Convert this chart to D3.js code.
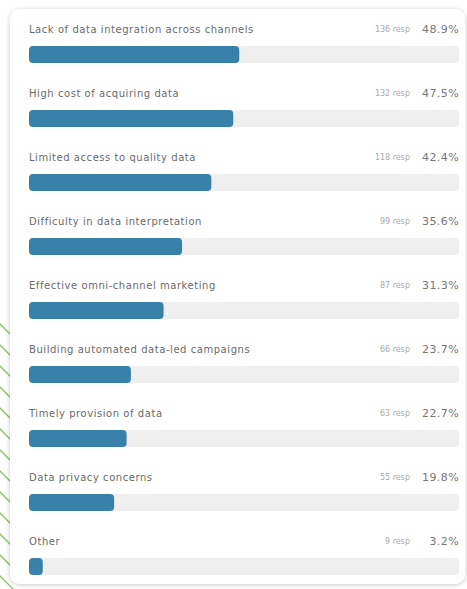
<!DOCTYPE html>
<html>
<head>
<meta charset="utf-8">
<script src="https://cdn.jsdelivr.net/npm/d3@7"></script>
<style>
  body { margin: 0; background: #fff; }
  svg { display: block; }
</style>
</head>
<body>
<svg id="chart" width="467" height="589"></svg>
<script>
var labels = [
  "Lack of data integration across channels",
  "High cost of acquiring data",
  "Limited access to quality data",
  "Difficulty in data interpretation",
  "Effective omni-channel marketing",
  "Building automated data-led campaigns",
  "Timely provision of data",
  "Data privacy concerns",
  "Other"
];
var responses = [136, 132, 118, 99, 87, 66, 63, 55, 9];
var percents = [48.9, 47.5, 42.4, 35.6, 31.3, 23.7, 22.7, 19.8, 3.2];

var svg = d3.select("#chart");
var defs = svg.append("defs");

// card shadow
var f = defs.append("filter").attr("id", "shadow")
  .attr("x", -0.1).attr("y", -0.1).attr("width", 1.2).attr("height", 1.2);
f.append("feDropShadow")
  .attr("dx", 0).attr("dy", 1)
  .attr("stdDeviation", 2.5)
  .attr("flood-color", "#000")
  .attr("flood-opacity", 0.22);

// green decorative strokes behind the card
var stripeY = d3.range(330, 600, 21);
svg.append("g").selectAll("line")
  .data(stripeY)
  .join("line")
  .attr("x1", -2).attr("y1", function(d) { return d - 8; })
  .attr("x2", 14).attr("y2", function(d) { return d + 8; })
  .style("stroke", "#8cc36b")
  .style("stroke-width", 1.3);

svg.append("rect")
  .attr("x", 10).attr("y", 9)
  .attr("width", 455).attr("height", 575)
  .attr("rx", 10)
  .style("fill", "#fff")
  .attr("filter", "url(#shadow)");

var x = d3.scaleLinear().domain([0, 100]).range([29, 459]);
var y = d3.scaleBand().domain(labels).range([14, 590]).paddingInner(0);

var rows = svg.append("g").selectAll("g")
  .data(labels)
  .join("g")
  .attr("transform", function(d) { return "translate(0," + y(d) + ")"; });

rows.append("text")
  .attr("x", 29).attr("y", 18.5)
  .style("font-family", "'DejaVu Sans', sans-serif")
  .style("font-size", "10px")
  .style("letter-spacing", "0.55px")
  .style("fill", "#6a6a6a")
  .text(function(d) { return d; });

rows.append("text")
  .attr("x", 459).attr("y", 18.5)
  .attr("text-anchor", "end")
  .style("font-family", "'DejaVu Sans', sans-serif")
  .style("font-size", "11px")
  .style("letter-spacing", "0.4px")
  .style("fill", "#777")
  .text(function(d, i) { return percents[i].toFixed(1) + "%"; });

rows.append("text")
  .attr("x", 410).attr("y", 18)
  .attr("text-anchor", "end")
  .style("font-family", "'DejaVu Sans', sans-serif")
  .style("font-size", "8px")
  .style("fill", "#aaa")
  .text(function(d, i) { return responses[i] + " resp"; });

rows.append("rect")
  .attr("x", x(0)).attr("y", 32)
  .attr("width", x(100) - x(0)).attr("height", 17)
  .attr("rx", 4)
  .style("fill", "#efefef");

rows.append("rect")
  .attr("x", x(0)).attr("y", 32)
  .attr("width", function(d, i) { return x(percents[i]) - x(0); })
  .attr("height", 17)
  .attr("rx", 4)
  .style("fill", "#3a81aa");
</script>
</body>
</html>
